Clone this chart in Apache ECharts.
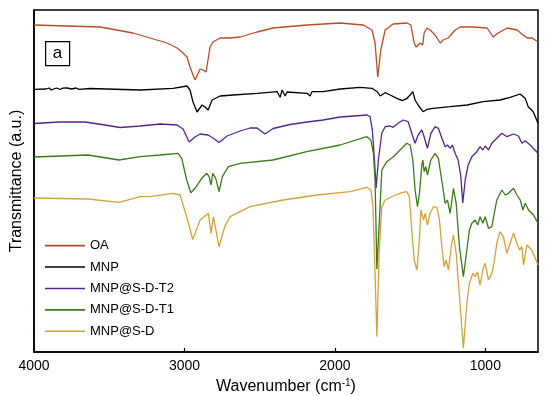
<!DOCTYPE html>
<html>
<head>
<meta charset="utf-8">
<script src="https://cdn.jsdelivr.net/npm/echarts@6/dist/echarts.min.js"></script>
<style>html,body{margin:0;padding:0;background:#fff}#c{width:550px;height:396px}</style>
</head>
<body>
<div id="c"></div>
<script>
// Wavenumber (cm-1), transmittance (a.u., offset-stacked as in the figure)
const seriesNames = ['OA', 'MNP', 'MNP@S-D-T2', 'MNP@S-D-T1', 'MNP@S-D'];
const xTicks = [1000, 2000, 3000, 4000];

const OA = [[4000,327],[3561,325],[3342,319],[3229,314],[3116,309],[3049,304],[3016,300],[3003,299.5],[2983,295],[2963,285],[2930,272],[2896,283],[2876,282],[2856,280],[2830,305],[2810,310],[2763,314],[2697,314],[2630,315],[2517,320],[2411,324],[2185,327],[1965,329],[1812,327],[1753,322],[1733,309],[1715,275],[1695,302],[1666,322],[1613,328],[1520,329],[1495,327],[1473,309],[1460,305],[1433,309],[1416,307],[1407,319],[1389,324],[1367,322],[1334,317],[1300,309],[1281,312],[1247,314],[1201,322],[1167,325],[1081,325],[988,324],[948,315],[915,319],[855,324],[789,322],[749,317],[722,314],[689,314],[650,310]];

const MNP = [[4000,262.7],[3920,263],[3900,264],[3885,262],[3870,263],[3850,264],[3827,262.5],[3810,263.8],[3800,262.3],[3780,264],[3750,263],[3720,264],[3700,262.7],[3628,263.5],[3295,262],[3076,263.7],[2983,266],[2963,262],[2943,250],[2916,240],[2883,247],[2863,245],[2843,242],[2816,252],[2763,256],[2677,257],[2517,258.7],[2384,260.3],[2364,254.7],[2351,262],[2331,256],[2318,260],[2185,258.7],[2165,256],[2152,260.3],[2078,260.3],[1965,263],[1832,264.7],[1753,263.7],[1719,260.3],[1699,256],[1666,259.3],[1633,257],[1587,253.7],[1553,251.3],[1520,253.7],[1500,257],[1482,260.3],[1467,252],[1447,247],[1414,240.3],[1387,242.7],[1347,243.7],[1234,245.3],[1121,247],[1015,250.3],[902,252],[835,254.7],[769,258],[735,253.7],[715,245.3],[682,240.3],[650,228.7]];

const T2 = [[4000,228.5],[3827,230],[3661,230],[3528,227],[3428,224.5],[3295,226],[3162,228],[3049,227],[3009,223],[2969,210],[2930,215],[2896,218],[2843,217],[2810,214],[2770,209.5],[2717,216],[2630,221],[2564,224],[2517,224],[2464,218],[2411,223.5],[2298,227.5],[2185,230],[2078,232],[1965,235],[1786,237],[1766,235.3],[1751,222],[1737,192],[1726,164],[1711,192],[1688,219],[1666,225.3],[1633,226],[1613,224.7],[1580,228.7],[1547,232],[1513,230.3],[1489,218.7],[1467,208.7],[1447,217],[1422,222],[1407,215.3],[1385,203.7],[1362,218.7],[1334,225.3],[1312,223.7],[1289,213.7],[1267,205.3],[1252,207],[1234,203.7],[1219,207],[1201,198.7],[1181,192],[1164,177],[1150,149],[1134,172],[1114,187],[1090,195.3],[1057,200.3],[1035,205.3],[1017,202],[1001,206],[979,202],[957,208.7],[924,213.7],[890,218.7],[857,215.3],[813,218],[780,216],[757,208.7],[735,211.3],[702,207],[650,198.7]];

const T1 = [[4000,195],[3641,197],[3435,192],[3295,195.3],[3162,197],[3043,198.7],[3018,193.7],[2985,172],[2958,159.3],[2930,163.7],[2885,173.7],[2852,178.7],[2836,175.3],[2823,167],[2812,178.7],[2792,173.7],[2770,160.3],[2748,175.3],[2708,185.3],[2630,188.7],[2411,192],[2187,200.3],[1965,207],[1788,215.3],[1761,212],[1744,198.7],[1733,172],[1721,83],[1704,132],[1688,182],[1655,190.3],[1611,195.3],[1567,202],[1522,208.7],[1500,207],[1482,192],[1467,162],[1451,145.3],[1438,158.7],[1422,187],[1415,192],[1407,180.3],[1396,185.3],[1385,177],[1362,192],[1334,198.7],[1312,193.7],[1289,171],[1267,148.7],[1252,152],[1234,138.7],[1212,163.7],[1194,148.7],[1172,105.3],[1146,75.3],[1123,102],[1106,122],[1090,128.7],[1068,132],[1050,127],[1035,135.3],[1017,128.7],[1001,135.3],[979,123.7],[957,125.3],[924,152],[890,162],[868,157],[846,158.7],[813,163.7],[790,157],[768,152],[750,142],[735,148.7],[713,142],[680,137],[650,128.7]];

const SD = [[4000,154],[3641,153],[3435,149.6],[3295,155.3],[3229,155.3],[3076,158.7],[3029,157],[2985,135.3],[2945,112.5],[2896,132],[2841,138.7],[2823,118.7],[2808,135.3],[2770,105.3],[2733,125],[2697,135.3],[2564,145.3],[2344,152],[2118,157],[1899,160.3],[1788,164.7],[1761,162],[1748,148.7],[1737,98.7],[1721,15.3],[1706,98.7],[1688,145.3],[1666,152],[1611,156],[1555,159.3],[1522,160.3],[1505,155.3],[1489,122],[1473,92],[1455,82],[1440,108.7],[1428,142],[1411,132],[1400,138.7],[1385,127],[1367,138.7],[1345,145.3],[1322,144.7],[1305,132],[1289,105.3],[1274,85.3],[1261,92],[1245,82],[1227,105.3],[1212,117],[1194,98.7],[1172,55.3],[1146,4],[1123,48.7],[1106,68.7],[1083,78.7],[1068,75.3],[1053,80.3],[1035,67],[1017,82],[1001,88.7],[979,72],[957,78.7],[941,90.3],[924,108.7],[902,120.3],[880,115.3],[857,98.7],[835,108.7],[813,118.7],[790,108.7],[773,102],[757,105.3],[746,87],[724,107],[691,102],[650,87]];

const seriesData = [OA, MNP, T2, T1, SD];
const colors = ['#b84c28', '#000000', '#55258f', '#3c7a1c', '#d4a23a'];
const FONT = 'Liberation Sans, Arial, sans-serif';

const chart = echarts.init(document.getElementById('c'), null, {renderer: 'canvas'});
chart.setOption({
  animation: false,
  backgroundColor: '#fff',
  grid: {left: 34, right: 12, top: 10, bottom: 44, outerBoundsMode: 'none', containLabel: false, show: true, borderColor: '#000', borderWidth: 1.5, backgroundColor: 'transparent'},
  xAxis: {
    type: 'value', inverse: true, min: 650, max: 4000,
    name: 'Wavenumber (cm{sup|-1})', nameLocation: 'middle', nameGap: 26,
    nameTextStyle: {fontSize: 16, color: '#000', fontFamily: FONT, rich: {sup: {fontSize: 10, verticalAlign: 'top', padding: [0,0,8,0], color: '#000', fontFamily: FONT}}},
    axisLine: {lineStyle: {color: '#000', width: 1.5}},
    axisTick: {inside: true, length: 4, customValues: xTicks, lineStyle: {color: '#000', width: 1.2}},
    axisLabel: {customValues: xTicks, fontSize: 14, color: '#000', fontFamily: FONT, margin: 7, formatter: v => String(v)},
    splitLine: {show: false}
  },
  yAxis: {
    type: 'value', min: 0, max: 342,
    name: 'Transmittance (a.u.)', nameLocation: 'middle', nameGap: 9,
    nameTextStyle: {fontSize: 16, color: '#000', fontFamily: FONT},
    axisLine: {show: true, lineStyle: {color: '#000', width: 1.5}},
    axisTick: {show: false}, axisLabel: {show: false}, splitLine: {show: false}
  },
  legend: {
    orient: 'vertical', left: 45, top: 238, padding: 0, icon: 'rect', itemWidth: 40, itemHeight: 1.6, itemGap: 6.1,
    textStyle: {fontSize: 13, color: '#000', fontFamily: FONT, lineHeight: 15.3},
    data: seriesNames
  },
  graphic: [{
    type: 'group', left: 45, top: 41,
    children: [
      {type: 'rect', shape: {x: 0, y: 0, width: 24, height: 24}, style: {fill: '#fff', stroke: '#000', lineWidth: 1.2}},
      {type: 'text', x: 12, y: 12, style: {text: 'a', fontSize: 17, fontFamily: FONT, fill: '#000', align: 'center', verticalAlign: 'middle'}}
    ]
  }],
  series: seriesNames.map((n, i) => ({
    name: n, type: 'line', data: seriesData[i], symbol: 'none', showSymbol: false,
    lineStyle: {color: colors[i], width: 1.3}, itemStyle: {color: colors[i]},
    z: 2 + i, clip: true
  }))
});
</script>
</body>
</html>
